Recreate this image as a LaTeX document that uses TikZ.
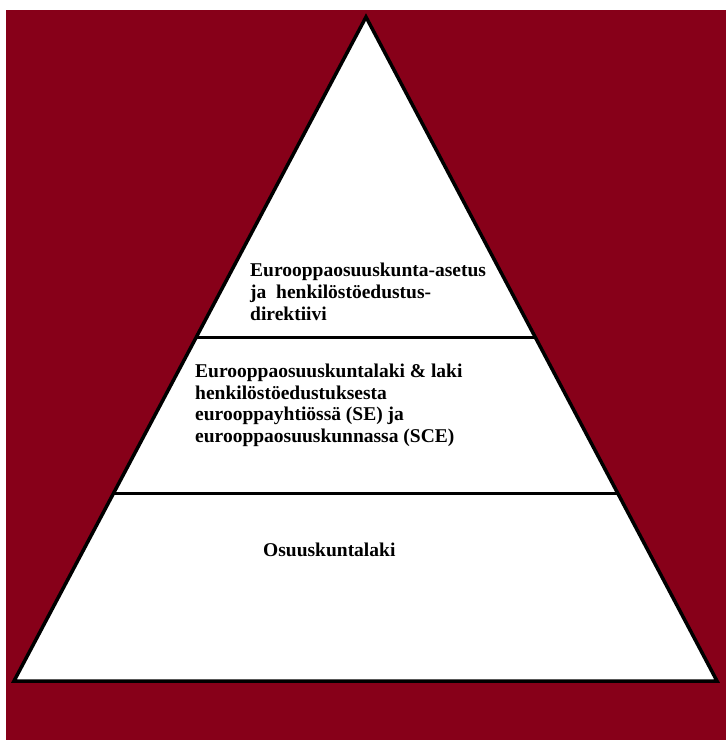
\documentclass[tikz,border=0pt]{standalone}
\usepackage{fontspec}
\setmainfont{Liberation Serif}
\usetikzlibrary{calc}
\definecolor{pyrred}{RGB}{135,0,25}

\begin{document}
\begin{tikzpicture}[x=1pt,y=-1pt,
    tiertext/.style={anchor=base west,align=left,inner sep=0pt,
      font=\fontsize{19.5}{22}\selectfont\bfseries}]
    \useasboundingbox (0,0) rectangle (726,740);
    \fill[white] (0,0) rectangle (726,740);
    \fill[pyrred] (6,10) rectangle (726,740);
    \coordinate (top) at (366,17);
    \coordinate (bl) at (14,681);
    \coordinate (br) at (717,681);
    \fill[white] (top) -- (bl) -- (br) -- cycle;
    \draw[line width=3pt] ($(top)!0.482!(bl)$) -- ($(top)!0.482!(br)$);
    \draw[line width=3pt] ($(top)!0.717!(bl)$) -- ($(top)!0.717!(br)$);
    \draw[line width=3.5pt] (top) -- (bl) -- (br) -- cycle;
    % base anchor sits on the last line
    \node[tiertext] (tier1) at (250,320) {Eurooppaosuuskunta-asetus\\ja\ \ henkilöstöedustus-\\direktiivi};
    \node[tiertext,font=\fontsize{19.5}{21.5}\selectfont\bfseries] (tier2) at (195,442) {Eurooppaosuuskuntalaki \& laki\\henkilöstöedustuksesta\\eurooppayhtiössä (SE) ja\\eurooppaosuuskunnassa (SCE)};
    \node[tiertext] (tier3) at (263,556) {Osuuskuntalaki};
\end{tikzpicture}
\end{document}
